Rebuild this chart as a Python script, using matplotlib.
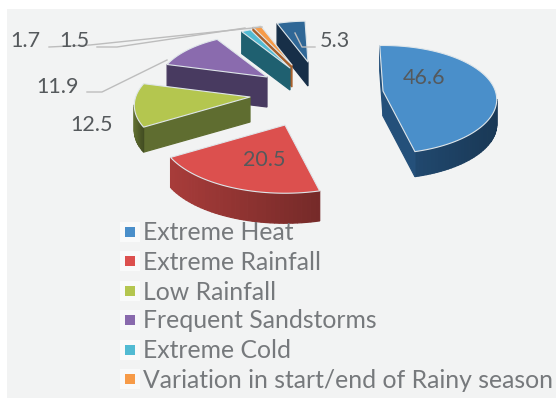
import numpy as np
import matplotlib
matplotlib.use("Agg")
import matplotlib.pyplot as plt
from matplotlib.patches import Polygon, Rectangle

plt.rcParams['font.family'] = ['Lato', 'DejaVu Sans']

categories = ["Extreme Heat", "Extreme Rainfall", "Low Rainfall", "Frequent Sandstorms",
              "Extreme Cold", "Variation in start/end of Rainy season", "Other"]
values = [46.6, 20.5, 12.5, 11.9, 1.7, 1.5, 5.3]
top_colors = ["#4a8fca", "#dc504e", "#b4c64f", "#8a6bae", "#52bbd3", "#f79b48", "#2f6796"]
side_colors = ["#24507a", "#a83c3a", "#5f6d30", "#483a60", "#1f6070", "#a8602c", "#172f48"]

# pie layout, in pixels
cx, cy = 300, 90
rx, ry = 112, 54
persp = 0.16
start = -2
depth = [25, 30, 25, 30, 22, 22, 24]
shift_x = [83, -15, -50, -33, -10, -8, 8]
shift_y = [1, 35, 7, -13, -22, -25, -28]
draw_order = [6, 5, 4, 3, 2, 0, 1]

fig = plt.figure(figsize=(5.56, 3.98), dpi=100, facecolor="white")
ax = fig.add_axes([0, 0, 1, 1])
ax.set_xlim(0, 556)
ax.set_ylim(398, 0)
ax.axis("off")
ax.add_patch(Rectangle((7, 9), 549, 389, fc="#f2f3f3", ec="none"))


def shade(color, f):
    return tuple(c * f for c in matplotlib.colors.to_rgb(color))


edges = start + np.cumsum([0] + values) * 3.6

for i in draw_order:
    ts = np.radians(np.linspace(edges[i], edges[i + 1], max(int(values[i] * 2), 4)))
    ax0 = cx + shift_x[i]
    ay0 = cy + shift_y[i]
    us = np.sin(ts)
    vs = -np.cos(ts)
    # nearer parts of the pie come out bigger
    scale = 1 + persp * (vs + shift_y[i] / ry)
    xs = ax0 + rx * us * scale
    ys = ay0 + ry * vs * scale
    outline = [(ax0, ay0)] + list(zip(xs, ys))
    h = depth[i]
    n = len(outline)
    for j in range(n):
        a = outline[j]
        b = outline[(j + 1) % n]
        # going clockwise on screen, only leftward edges face the viewer
        if b[0] - a[0] >= 0:
            continue
        f = 1.0
        if 0 < j < n - 1:
            f = 1.0 - 0.3 * (a[0] - xs.min()) / max(xs.max() - xs.min(), 1)
        c = shade(side_colors[i], f)
        ax.add_patch(Polygon([a, b, (b[0], b[1] + h), (a[0], a[1] + h)], fc=c, ec=c, lw=0.9))
    ax.add_patch(Polygon(outline, fc=top_colors[i], ec="#dfe6ea", lw=0.8, joinstyle="round"))

# leader lines
leader_color = "#bdbdbd"
ax.plot([295, 302, 315], [33, 47, 47], color=leader_color, lw=1)
ax.plot([87, 102, 167], [92, 92, 60], color=leader_color, lw=1)
ax.plot([49, 90, 262], [47, 45, 27], color=leader_color, lw=1)
ax.plot([97, 117, 245], [47, 47, 28], color=leader_color, lw=1)

# data labels
label_text = ["46.6", "20.5", "12.5", "11.9", "1.7", "1.5", "5.3"]
label_x = [424, 264, 92, 58, 25, 74, 335]
label_y = [78, 160, 125, 87, 41, 41, 41]
for t, x, y in zip(label_text, label_x, label_y):
    ax.text(x, y, t, fontsize=15.5, color="#55595c", ha="center", va="center")

# legend
legend_y = [232, 261, 291, 320, 350, 379]
for name, col, y in zip(categories, top_colors, legend_y):
    ax.add_patch(Rectangle((120, y - 10), 20, 20, fc="#f9fafa", ec="none"))
    ax.add_patch(Rectangle((125, y - 5), 10, 10, fc=col, ec="none"))
    ax.text(143, y + 1, name, fontsize=17.8, color="#76797c", ha="left", va="center")

fig.savefig("out.png", dpi=100)
